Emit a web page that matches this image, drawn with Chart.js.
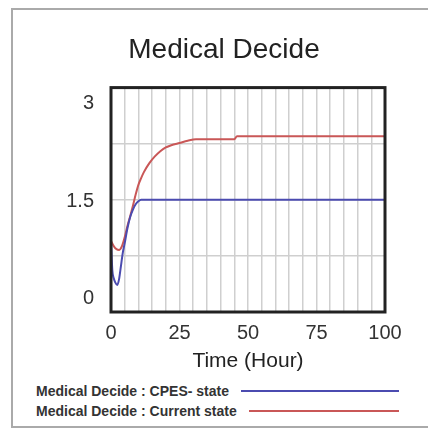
<!DOCTYPE html>
<html>
<head>
<meta charset="utf-8">
<script src="https://cdn.jsdelivr.net/npm/chart.js@4"></script>
<style>
  html, body { margin: 0; padding: 0; background: #fff; }
  body { width: 428px; height: 428px; position: relative; overflow: hidden; font-family: "Liberation Sans", Arial, sans-serif; }
  #frame { position: absolute; left: 11px; top: 8px; width: 430px; height: 420px; border: 2px solid #aaa; box-sizing: border-box; }
  #wrap { position: absolute; left: 0; top: 0; width: 428px; height: 375px; }
  #legend { position: absolute; left: 36px; top: 381px; width: 363px; font-size: 14px; font-weight: bold; color: #333; }
  .row { display: flex; align-items: center; height: 20px; }
  .row .line { flex: 1; height: 2px; margin-left: 12px; }
</style>
</head>
<body>
<div id="frame"></div>
<div id="wrap"><canvas id="chart"></canvas></div>
<div id="legend"></div>
<script>
// Series: CPES- state (blue)
const cpesTime = [0, 0.5, 1, 1.5, 2.3, 3, 3.5, 4.3, 5, 6, 7, 8, 9, 10, 11, 100];
const cpesValues = [0.95, 0.55, 0.45, 0.4, 0.36, 0.45, 0.58, 0.79, 0.92, 1.12, 1.27, 1.37, 1.44, 1.48, 1.5, 1.5];

// Series: Current state (red)
const currentTime = [0, 1, 2, 3, 4, 5, 6, 7, 8, 9, 10, 11, 12, 14, 16, 18, 20, 22, 25, 28, 31, 45, 46, 100];
const currentValues = [0.95, 0.88, 0.84, 0.83, 0.88, 1.0, 1.15, 1.28, 1.42, 1.57, 1.7, 1.79, 1.87, 1.99, 2.08, 2.15, 2.2, 2.23, 2.26, 2.29, 2.31, 2.31, 2.35, 2.35];

const seriesLabels = ["Medical Decide : CPES- state", "Medical Decide : Current state"];
const seriesColors = ["#4b4bb0", "#c95757"];

const xTickLabels = [0, 25, 50, 75, 100];
const yTickLabels = [0, 1.5, 3];

const FONT = "'Liberation Sans', Arial, sans-serif";

function toPoints(xs, ys) {
  return xs.map((x, i) => ({ x: x, y: ys[i] }));
}

// black frame round the plot area
const plotBorder = {
  id: "plotBorder",
  afterDatasetsDraw(chart) {
    const a = chart.chartArea;
    const ctx = chart.ctx;
    ctx.save();
    ctx.strokeStyle = "#222";
    ctx.lineWidth = 3;
    ctx.strokeRect(a.left, a.top, a.right - a.left, a.bottom - a.top);
    ctx.restore();
  },
};

const ctx = document.getElementById("chart").getContext("2d");
new Chart(ctx, {
  type: "line",
  data: {
    datasets: [
      {
        label: seriesLabels[0],
        data: toPoints(cpesTime, cpesValues),
        borderColor: seriesColors[0],
        borderWidth: 2,
        pointRadius: 0,
        cubicInterpolationMode: "monotone",
      },
      {
        label: seriesLabels[1],
        data: toPoints(currentTime, currentValues),
        borderColor: seriesColors[1],
        borderWidth: 2,
        pointRadius: 0,
        cubicInterpolationMode: "monotone",
      },
    ],
  },
  options: {
    responsive: true,
    maintainAspectRatio: false,
    animation: false,
    layout: { padding: { left: 63, right: 43, top: 0, bottom: 0 } },
    plugins: {
      legend: { display: false },
      tooltip: { enabled: false },
      title: {
        display: true,
        text: "Medical Decide",
        color: "#222",
        font: { family: FONT, size: 28, weight: "normal" },
        padding: { top: 33, bottom: 21 },
      },
    },
    scales: {
      x: {
        type: "linear",
        min: 0,
        max: 100,
        border: { display: false },
        grid: { color: "#cfcfcf", lineWidth: 1.5, drawTicks: false },
        ticks: {
          stepSize: 5,
          autoSkip: false,
          maxRotation: 0,
          padding: 9,
          color: "#333",
          font: { family: FONT, size: 20 },
          callback: (v) => (xTickLabels.includes(v) ? String(v) : ""),
        },
        title: {
          display: true,
          text: "Time (Hour)",
          color: "#222",
          font: { family: FONT, size: 21 },
          padding: { top: 0, bottom: 1 },
        },
        afterFit: (scale) => { scale.height = 63; },
      },
      y: {
        min: 0,
        max: 3,
        border: { display: false },
        grid: { color: "#cfcfcf", lineWidth: 1.5, drawTicks: false },
        ticks: { stepSize: 0.75, display: false },
        afterFit: (scale) => { scale.width = 0; },
      },
      yLabels: {
        position: "left",
        min: -0.2,
        max: 3.246,
        border: { display: false },
        grid: { display: false, drawTicks: false, tickLength: 0 },
        ticks: {
          padding: 17,
          color: "#333",
          font: { family: FONT, size: 20 },
          callback: (v) => String(v),
        },
        afterBuildTicks: (axis) => {
          axis.ticks = yTickLabels.map((v) => ({ value: v }));
        },
        afterFit: (scale) => { scale.width = 48; },
      },
    },
  },
  plugins: [plotBorder],
});

// legend: text then a line, as in the source
const legend = document.getElementById("legend");
seriesLabels.forEach((label, i) => {
  const row = document.createElement("div");
  row.className = "row";
  const span = document.createElement("span");
  span.textContent = label;
  const line = document.createElement("div");
  line.className = "line";
  line.style.background = seriesColors[i];
  row.appendChild(span);
  row.appendChild(line);
  legend.appendChild(row);
});
</script>
</body>
</html>
